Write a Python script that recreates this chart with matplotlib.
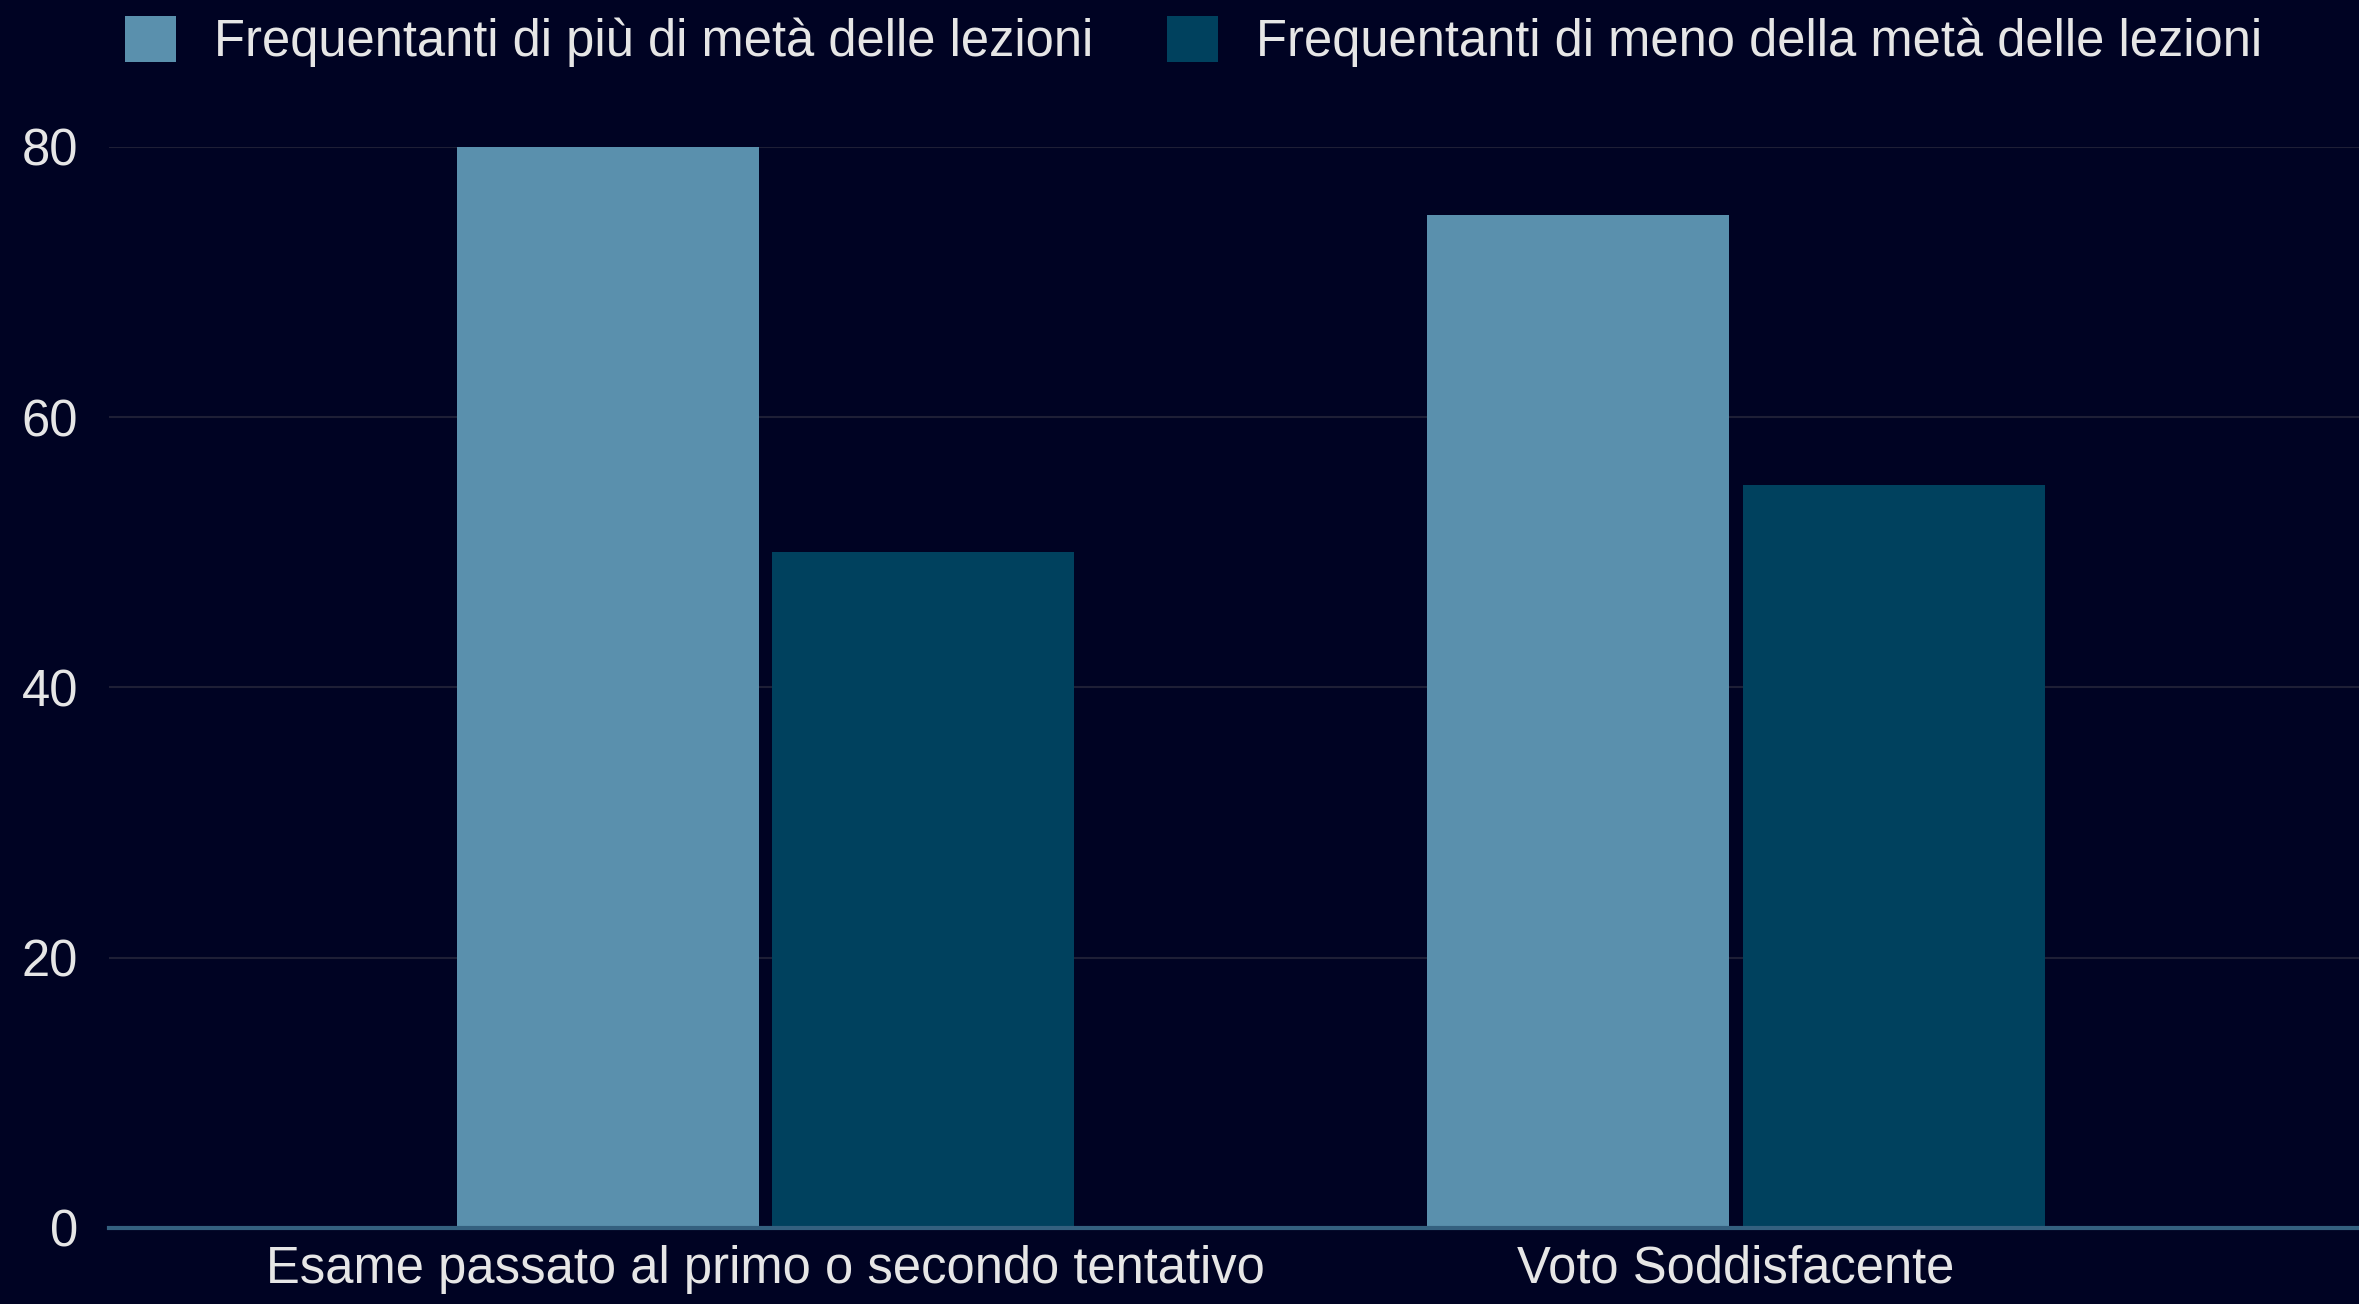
import numpy as np
import matplotlib.pyplot as plt

plt.rcParams['font.family'] = ['Liberation Sans', 'DejaVu Sans']

# --- data ---
categorie = ["Esame passato al primo o secondo tentativo", "Voto Soddisfacente"]
serie_nomi = ["Frequentanti di più di metà delle lezioni",
              "Frequentanti di meno della metà delle lezioni"]
piu_meta = [80, 75]
meno_meta = [50, 55]
y_ticks = [0, 20, 40, 60, 80]

# --- style ---
bg = "#000323"
c_light = "#5a90ad"
c_dark = "#00415e"
txt = "#e6e6e6"
fs = 36.5

fig = plt.figure(figsize=(23.59, 13.04), dpi=100, facecolor=bg)
ax = fig.add_axes([0.046, 0.0583, 0.954, 0.829])
ax.set_facecolor(bg)

x = np.arange(len(categorie))
w = 0.311
off = 0.1625
ax.bar(x - off, piu_meta, width=w, color=c_light, label=serie_nomi[0], zorder=3)
ax.bar(x + off, meno_meta, width=w, color=c_dark, label=serie_nomi[1], zorder=3)

ax.set_xlim(-0.677, 1.642)
ax.set_ylim(0, 80)
ax.set_yticks(y_ticks)
ax.set_xticks(x)
ax.set_xticklabels(categorie)

ax.tick_params(axis='both', length=0, colors=txt, labelsize=fs)
ax.tick_params(axis='y', pad=22)
ax.tick_params(axis='x', pad=12)

ax.grid(axis='y', color="#1e1f36", linewidth=1.5, zorder=0)
for s in ax.spines.values():
    s.set_visible(False)
ax.axhline(0, color="#34607f", linewidth=3, zorder=4, clip_on=False)

leg = fig.legend(loc='center', bbox_to_anchor=(0.506, 0.968), ncol=2,
                 frameon=False, fontsize=fs, handlelength=1.0, handleheight=1.0,
                 handletextpad=0.75, columnspacing=1.45)
for t in leg.get_texts():
    t.set_color(txt)

fig.savefig("out.png", dpi=100, facecolor=bg)
